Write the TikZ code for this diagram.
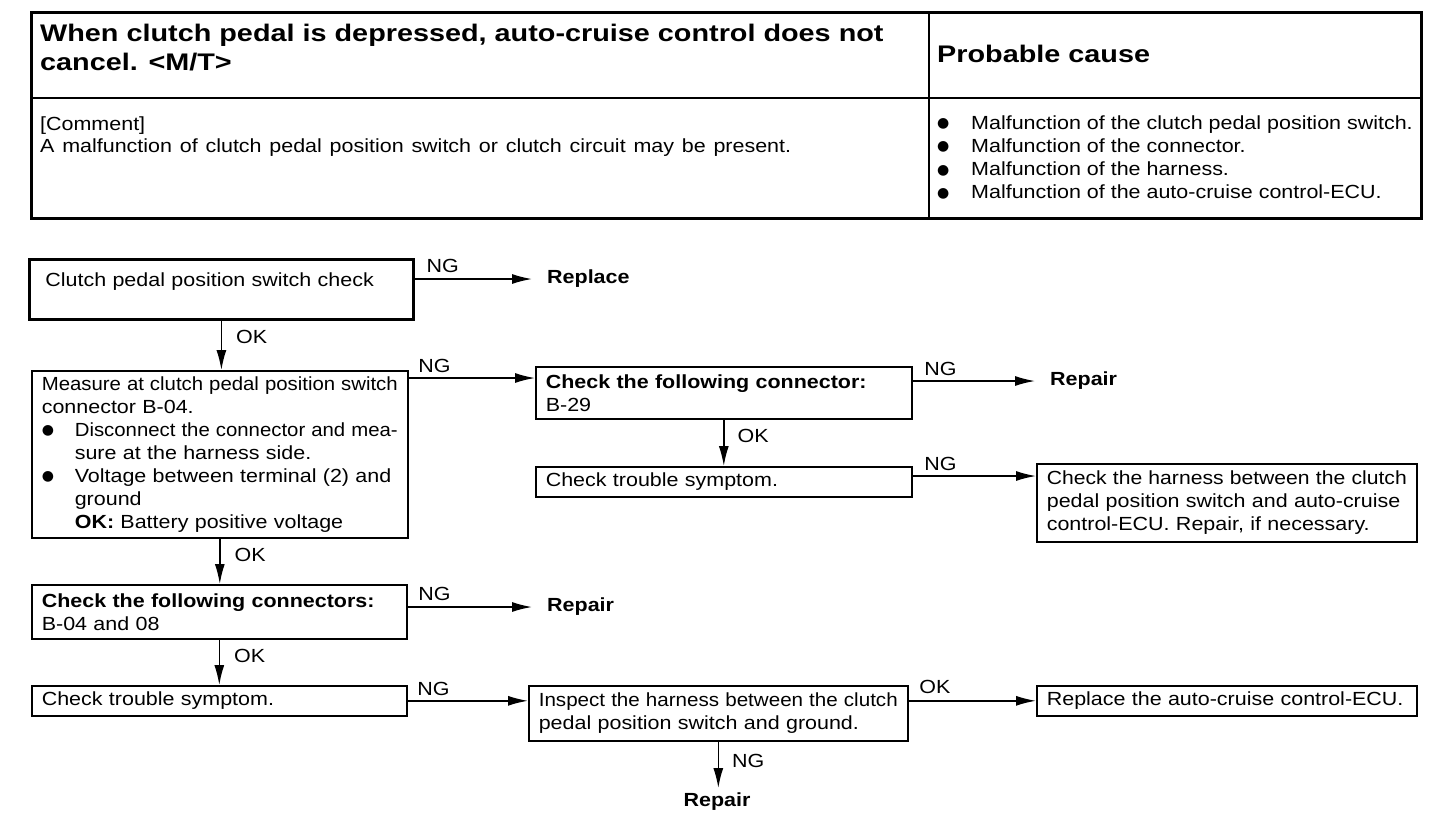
\documentclass[tikz,border=0pt]{standalone}
\usepackage{fontspec}
\usepackage{graphicx}
\setmainfont{Liberation Sans}[FakeStretch=1.13]
\newfontfamily\headfont{Liberation Sans}[FakeStretch=1.2]
\newfontfamily\dotfont{DejaVu Sans}
\usetikzlibrary{arrows.meta}

\newcommand\fs{\fontsize{19}{23}\selectfont\parindent=0pt}
\newlength\jlw
\newsavebox\jlbox
% one justified line: spaces stretched, or squeezed when too long
\newcommand\jl[2][\hsize]{\setlength\jlw{#1}\sbox\jlbox{#2}%
  \ifdim\wd\jlbox>\jlw\resizebox{\jlw}{\ht\jlbox}{\usebox\jlbox}\else\makebox[\jlw][s]{#2}\fi}
\newcommand\jli{\jl[\dimexpr\hsize-33pt\relax]}
\newcommand\dotmark{\raisebox{1.5pt}{\dotfont\fontsize{14}{23}\selectfont ●}}
\newcommand\bul{\makebox[33pt][l]{\dotmark}}
\newcommand\ind{\hspace*{33pt}}

\begin{document}
\begin{tikzpicture}[x=1pt,y=-1pt,
  box/.style={draw, line width=1.6pt, anchor=north west, inner xsep=10pt, inner ysep=0pt, align=left, font=\fs},
  arr/.style={line width=1.5pt, -{Latex[length=20pt,width=10pt]}},
  lbl/.style={anchor=base west, inner sep=0pt, font=\fs},
  endtxt/.style={anchor=west, inner sep=0pt, font=\fs\bfseries},
  txt/.style={anchor=base west, inner sep=0pt, font=\fs}]

\useasboundingbox (0,0) rectangle (1456,828);

% table on top
\draw [line width=3pt] (31,12) rectangle (1421,218);
\draw [line width=2pt] (31,98) -- (1421,98);
\draw [line width=1.5pt] (929,12) -- (929,218);

\node [txt, font=\headfont\bfseries\fontsize{24}{29}\selectfont] (head1) at (40,41) {When clutch pedal is depressed, auto-cruise control does not};
\node [txt, font=\headfont\bfseries\fontsize{24}{29}\selectfont] (head2) at (40,70) {cancel. <M/T>};
\node [txt, font=\headfont\bfseries\fontsize{24}{29}\selectfont] (cause) at (937,62) {Probable cause};

\node [txt] (comm1) at (40,130) {[Comment]};
\node [txt] (comm2) at (40,152) {\jl[751pt]{A malfunction of clutch pedal position switch or clutch circuit may be present.}};

\foreach \t [count=\i from 0] in {Malfunction of the clutch pedal position switch., Malfunction of the connector., Malfunction of the harness., Malfunction of the auto-cruise control-ECU.}
  \node [txt] (cb\i) at (937,{129+23.3*\i}) {\makebox[34pt][l]{\dotmark}\t};

% flow chart boxes
\node [box, line width=2.8pt, inner xsep=16pt, text width=352pt, minimum height=60pt, text height=15pt, text depth=21pt] (chk) at (28,258) {Clutch pedal position switch check};

\node [box, text width=356pt, minimum height=167pt] (meas) at (31,370) {\jl{Measure at clutch pedal position switch}\\
connector B-04.\\
\bul\jli{Disconnect the connector and mea-}\\
\ind sure at the harness side.\\
\bul\jli{Voltage between terminal (2) and}\\
\ind ground\\
\ind\textbf{OK:} Battery positive voltage};

\node [box, text width=356pt, minimum height=52pt] (con1) at (535,366) {\textbf{\jl[348pt]{Check the following connector:}}\\B-29};
\node [box, text width=356pt, minimum height=30pt] (sym1) at (535,466) {Check trouble symptom.};
\node [box, text width=360pt, minimum height=78pt] (harn1) at (1036,463) {\jl{Check the harness between the clutch}\\
\jl{pedal position switch and auto-cruise}\\
\jl{control-ECU. Repair, if necessary.}};

\node [box, text width=355pt, minimum height=54pt] (con2) at (31,584) {\textbf{\jl{Check the following connectors:}}\\B-04 and 08};
\node [box, text width=355pt, minimum height=30pt] (sym2) at (31,685) {Check trouble symptom.};
\node [box, text width=359pt, minimum height=55pt] (harn2) at (528,685) {\jl{Inspect the harness between the clutch}\\
pedal position switch and ground.};
\node [box, text width=360pt, minimum height=30pt] (ecu) at (1036,685) {Replace the auto-cruise control-ECU.};

% end texts
\node [endtxt] (rep0) at (547,279) {Replace};
\node [endtxt] (rep1) at (1050,381) {Repair};
\node [endtxt] (rep2) at (547,607) {Repair};
\node [endtxt, anchor=north] (rep3) at (717,793) {Repair};

% arrows
\draw [arr, shorten >=15pt] (chk.east |- rep0.west) -- node [lbl, pos=0, xshift=11pt, yshift=7pt] (ng0) {NG} (rep0.west);
\draw [arr] (chk.south) -- node [lbl, xshift=14pt, yshift=2pt] (ok0) {OK} (chk.south |- meas.north);

\coordinate (m1) at ([yshift=-8pt]meas.north east);
\draw [arr] (m1) -- node [lbl, pos=0, xshift=9pt, yshift=6pt] (ng1) {NG} (m1 -| con1.west);
\draw [arr, shorten >=15pt] (con1.east |- rep1.west) -- node [lbl, pos=0, xshift=11pt, yshift=6pt] (ng2) {NG} (rep1.west);
\draw [arr] (con1.south) -- node [lbl, xshift=13pt] (ok1) {OK} (con1.south |- sym1.north);

\coordinate (s1) at ([yshift=-10pt]sym1.north east);
\draw [arr] (s1) -- node [lbl, pos=0, xshift=11pt, yshift=6pt] (ng3) {NG} (s1 -| harn1.west);

\draw [arr] (meas.south) -- node [lbl, xshift=14pt] (ok2) {OK} (meas.south |- con2.north);
\draw [arr, shorten >=15pt] (con2.east |- rep2.west) -- node [lbl, pos=0, xshift=10pt, yshift=7pt] (ng4) {NG} (rep2.west);
\draw [arr] (con2.south) -- node [lbl, xshift=14pt] (ok3) {OK} (con2.south |- sym2.north);

\draw [arr] (sym2.east) -- node [lbl, pos=0, xshift=9pt, yshift=5pt] (ng5) {NG} (sym2.east -| harn2.west);
\draw [arr] (harn2.east |- ecu.west) -- node [lbl, pos=0, xshift=10pt, yshift=7pt] (ok4) {OK} (ecu.west);
\draw [arr, shorten >=5pt] (harn2.south) -- node [lbl, xshift=13pt] (ng6) {NG} (harn2.south |- rep3.north);

\end{tikzpicture}
\end{document}
